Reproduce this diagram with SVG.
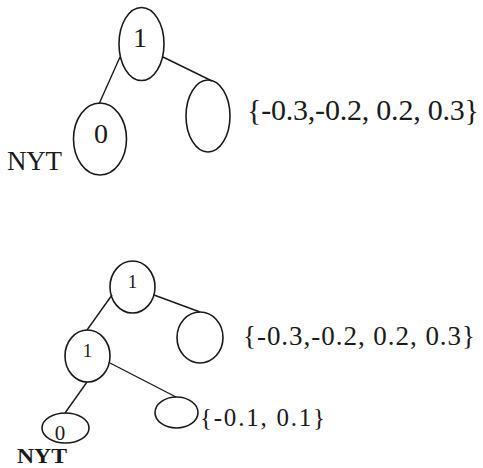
<svg xmlns="http://www.w3.org/2000/svg" width="483" height="468" viewBox="0 0 483 468">
<style>
.n{fill:none;stroke:#1a1a1a;stroke-width:1.6}
.e{stroke:#1a1a1a;stroke-width:1.4;fill:none}
text{font-family:"Liberation Serif","DejaVu Serif",serif;fill:#1a1a1a}
</style>
<rect width="483" height="468" fill="#fff"/>
<g id="connectors">
<line class="e" x1="120" y1="57" x2="99" y2="104"/>
<line class="e" x1="163" y1="57" x2="212" y2="81"/>
<line class="e" x1="112" y1="295" x2="87" y2="330"/>
<line class="e" x1="154" y1="295" x2="200" y2="312"/>
<line class="e" x1="110" y1="363" x2="176" y2="397"/>
<line class="e" x1="87" y1="382" x2="65" y2="413"/>
</g>
<g id="t1-root"><ellipse class="n" cx="141.5" cy="44" rx="22.5" ry="36.5"/><text x="140" y="47" font-size="28" text-anchor="middle">1</text></g>
<g id="t1-nyt"><ellipse class="n" cx="100" cy="139" rx="26.5" ry="36"/><text x="101" y="143" font-size="28" text-anchor="middle">0</text><text x="7" y="170" font-size="27" textLength="55">NYT</text></g>
<g id="t1-leaf"><ellipse class="n" cx="208" cy="116" rx="22" ry="36"/><text x="247" y="120" font-size="30" textLength="232">{-0.3,-0.2, 0.2, 0.3}</text></g>
<g id="t2-root"><ellipse class="n" cx="132.5" cy="287" rx="22.5" ry="26"/><text x="132.5" y="288" font-size="19" text-anchor="middle">1</text></g>
<g id="t2-leaf"><ellipse class="n" cx="200" cy="337.5" rx="23" ry="25.5"/><text x="243" y="345" font-size="27" textLength="232">{-0.3,-0.2, 0.2, 0.3}</text></g>
<g id="t2-mid"><ellipse class="n" cx="87.5" cy="356" rx="22.5" ry="26"/><text x="87.5" y="357" font-size="19" text-anchor="middle">1</text></g>
<g id="t2-small"><ellipse class="n" cx="176.5" cy="412.5" rx="21.5" ry="15.5"/><text x="200" y="426" font-size="25" textLength="125">{-0.1, 0.1}</text></g>
<g id="t2-nyt"><ellipse class="n" cx="65.5" cy="428" rx="23.5" ry="15"/><text x="60" y="440" font-size="21" text-anchor="middle">0</text><text x="17" y="463" font-size="21" font-weight="bold" textLength="50" lengthAdjust="spacingAndGlyphs">NYT</text></g>
</svg>
